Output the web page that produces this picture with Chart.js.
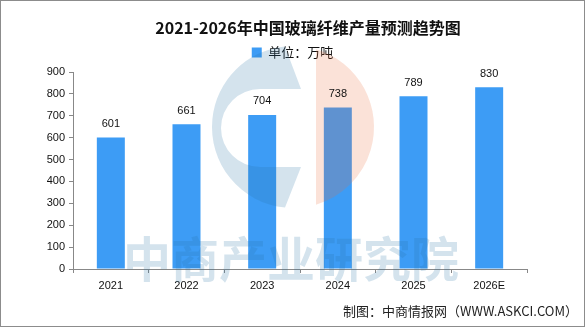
<!DOCTYPE html>
<html>
<head>
<meta charset="utf-8">
<script src="https://cdn.jsdelivr.net/npm/chart.js@4.4.1/dist/chart.umd.min.js"></script>
<style>
  html, body { margin: 0; padding: 0; background: #fff; }
  #wrap { width: 585px; height: 327px; position: relative; }
</style>
</head>
<body>
<div id="wrap"><canvas id="glassChart" width="585" height="327"></canvas></div>
<script>
// Glass fibre output, 10k tonnes
const years = ["2021", "2022", "2023", "2024", "2025", "2026E"];
const output = [601, 661, 704, 738, 789, 830];
const yTicks = [0, 100, 200, 300, 400, 500, 600, 700, 800, 900];

const titleText = "2021-2026年中国玻璃纤维产量预测趋势图";
const unitLabel = "单位：万吨";
const sourceText = "制图：中商情报网（WWW.ASKCI.COM）";
const watermarkText = "中商产业研究院";

const barColor = "#3d9cf5";
const axisColor = "#888888";
const cjkFont = "'Noto Sans CJK SC', 'Liberation Sans', sans-serif";
const numFont = "'Liberation Sans', 'DejaVu Sans', sans-serif";

// faint logo + company name behind the bars, frame, title and source line
const decorPlugin = {
    id: "decor",
    afterLayout(chart) {
        // center the legend on the whole canvas, not just the padded box
        const lg = chart.legend;
        lg.left = 0;
        lg.right = chart.width;
        lg.width = chart.width;
    },
    afterDatasetsDraw(chart) {
        const c = chart.ctx;
        c.save();
        // left "C" part of the logo
        const cx = 293, cy = 127, r = 81;
        c.beginPath();
        c.arc(cx, cy, r, Math.PI / 2 + Math.asin(8 / r), Math.PI * 1.5 - Math.asin(8 / r));
        c.lineTo(301, 89);
        c.lineTo(260, 89);
        c.arc(260, 128, 39, -Math.PI / 2, Math.PI / 2, true);
        c.lineTo(301, 167);
        c.closePath();
        c.fillStyle = "rgba(40,115,165,0.2)";
        c.fill();
        // right half of the logo
        c.beginPath();
        const a = Math.asin(23 / r);
        c.arc(cx, cy, r, -Math.PI / 2 + a, Math.PI / 2 - a);
        c.closePath();
        c.fillStyle = "rgba(235,110,60,0.2)";
        c.fill();
        // company name
        c.font = "bold 48px " + cjkFont;
        c.fillStyle = "rgba(40,115,165,0.2)";
        c.textAlign = "center";
        c.textBaseline = "middle";
        c.fillText(watermarkText, 291, 259);
        c.restore();
    },
    afterDraw(chart) {
        const c = chart.ctx;
        c.save();
        // value labels above bars
        const meta = chart.getDatasetMeta(0);
        c.font = "11px " + numFont;
        c.fillStyle = "#111";
        c.textAlign = "center";
        c.textBaseline = "bottom";
        meta.data.forEach((bar, i) => {
            c.fillText(String(output[i]), bar.x, bar.y - 8);
        });
        // title
        c.font = "bold 16px " + cjkFont;
        c.textBaseline = "middle";
        c.fillText(titleText, 308, 28);
        // source
        c.font = "13px " + cjkFont;
        c.textAlign = "right";
        c.fillStyle = "#222";
        c.fillText(sourceText, 578, 311);
        // outer frame
        c.strokeStyle = "#8c8c8c";
        c.lineWidth = 1;
        c.strokeRect(0.5, 0.5, 584, 326);
        c.restore();
    }
};

new Chart(document.getElementById("glassChart"), {
    type: "bar",
    data: {
        labels: years,
        datasets: [{
            label: unitLabel,
            data: output,
            backgroundColor: barColor,
            categoryPercentage: 1,
            barPercentage: 0.37
        }]
    },
    options: {
        responsive: false,
        animation: false,
        layout: { padding: { top: 0, right: 58, bottom: 30, left: 0 } },
        plugins: {
            title: { display: false },
            tooltip: { enabled: false },
            legend: {
                display: true,
                position: "top",
                labels: {
                    boxWidth: 10,
                    boxHeight: 10,
                    padding: 46,
                    color: "#111",
                    font: { size: 13, family: cjkFont }
                }
            }
        },
        scales: {
            x: {
                grid: { display: true, drawOnChartArea: false, drawTicks: true, tickLength: 4, color: axisColor },
                border: { color: axisColor },
                ticks: { color: "#111", padding: 6, font: { size: 11, family: numFont } },
                afterFit(scale) { scale.height = 28; }
            },
            y: {
                min: 0,
                max: 900,
                afterBuildTicks(scale) { scale.ticks = yTicks.map(v => ({ value: v })); },
                grid: { display: true, drawOnChartArea: false, drawTicks: true, tickLength: 4, color: axisColor },
                border: { color: axisColor },
                ticks: { color: "#111", padding: 4, font: { size: 11, family: numFont } },
                afterFit(scale) { scale.width = 73; }
            }
        }
    },
    plugins: [decorPlugin, {
        id: "legendSpace",
        beforeInit(chart) {
            const fit = chart.legend.fit;
            chart.legend.fit = function () {
                fit.bind(chart.legend)();
                this.height = 72;
            };
        }
    }]
});
</script>
</body>
</html>
